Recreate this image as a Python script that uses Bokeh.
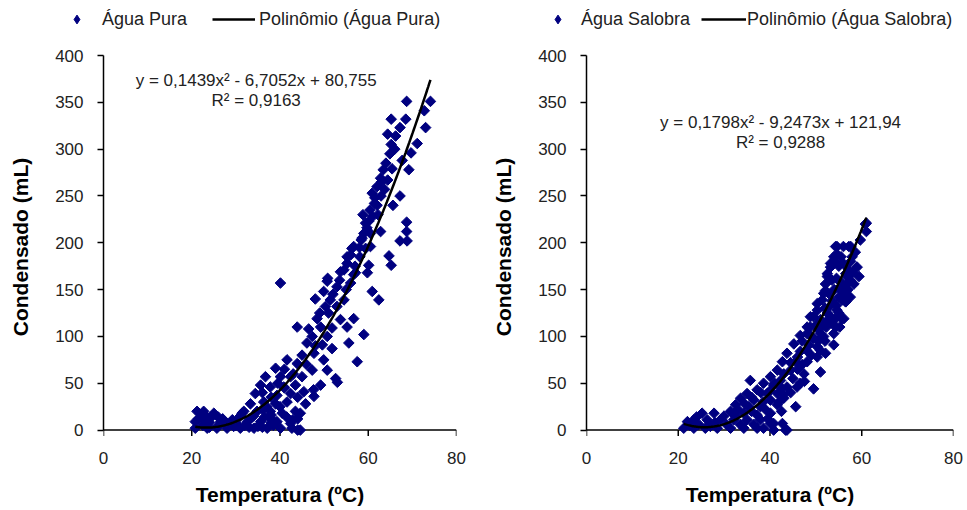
import numpy as np
from bokeh.plotting import figure
from bokeh.layouts import row, column
from bokeh.models import Range1d, Legend, LegendItem, Label, FixedTicker, Span
from bokeh.embed import file_html
from bokeh.resources import INLINE

# ---- Água Pura: temperatura (ºC) x condensado (mL) ----
pura_temp = [68.7, 74.1, 72.7, 65.2, 68.5, 73.0, 67.2, 64.4, 66.2, 71.1, 65.2, 69.7, 64.9, 67.7,
             63.4, 65.4, 69.2, 62.8, 64.4, 62.0, 63.7, 60.9, 67.2, 62.9, 65.6, 61.4, 60.4, 58.8,
             62.2, 60.1, 68.7, 59.7, 62.8, 68.7, 67.2, 68.8, 58.4, 56.7, 59.4, 56.0, 58.1, 64.7,
             65.2, 55.2, 60.1, 53.7, 57.1, 59.8, 50.8,
             59.4, 58.6, 60.5, 56.3, 55.2, 56.7, 54.5, 50.7, 52.9, 56.0, 60.9, 62.4, 49.9, 51.4,
             54.5, 50.3, 52.9, 56.7, 53.7, 48.4, 43.9, 49.2, 51.8, 55.2, 59.0, 47.3, 50.7, 46.1,
             49.6, 55.6, 51.8, 47.7, 49.9, 57.5, 41.6, 43.9, 39.0, 47.3, 50.7, 52.6, 45.0, 42.4,
             36.7, 40.1, 35.6, 37.8, 40.9, 43.5, 49.2, 34.4, 39.3, 42.4, 45.4, 47.7, 36.3, 39.0,
             41.6, 45.8, 33.3, 31.8, 34.8, 37.8, 40.5, 43.5, 42.9, 39.3, 35.6, 32.6, 29.2, 26.5,
             23.5, 21.2, 22.7, 25.0, 22.0, 20.8, 20.8, 23.5, 25.7, 28.0, 31.0, 34.1, 37.1, 40.1,
             42.7, 44.6, 31.4, 40.1, 47.6, 53.0, 44.6, 42.4, 44.0,
             22.5, 24.0, 21.5, 23.0, 24.5, 26.0, 27.0, 29.5, 30.0, 32.0, 33.5, 35.0, 36.5, 38.5,
             38.0, 36.0, 38.0, 39.5, 41.0, 37.0, 40.0, 44.0, 43.0, 41.0, 46.0, 45.0, 48.0, 46.5,
             49.0, 51.0, 48.0, 52.0, 53.5, 55.0, 57.0, 58.0, 59.0, 60.5, 61.0, 61.5, 62.0, 63.0,
             64.0, 66.0, 30.0, 28.0, 26.0, 24.0, 33.0, 36.0, 38.0, 34.0, 44.0, 41.5, 38.0, 36.0,
             31.0]
pura_cond = [351, 351, 341, 332, 332, 323, 323, 316, 314, 306, 305, 296, 295, 288,
             278, 279, 278, 269, 267, 260, 257, 253, 250, 250, 240, 242, 235, 230,
             230, 223, 222, 216, 212, 212, 202, 202, 203, 196, 194, 187, 185, 186,
             176, 178, 176, 169, 168, 168, 162,
             221, 205, 196, 194, 185, 166, 171, 159, 153, 157, 148, 139, 148, 139,
             139, 132, 132, 119, 118, 119, 110, 110, 109, 110, 102, 100, 100, 93,
             91, 93, 87, 82, 75, 73, 75, 71, 66, 64, 64, 55, 57, 57,
             57, 57, 48, 46, 46, 48, 48, 39, 37, 39, 41, 36, 30, 28,
             30, 28, 28, 20, 20, 20, 18, 20, 11, 9, 9, 9, 11, 9,
             11, 20, 20, 18, 14, 9, 2, 2, 2, 2, 2, 2, 2, 2,
             2, 0, 18, 157, 43, 51, 18, 7, 0,
             5, 8, 12, 16, 14, 5, 12, 4, 8, 5, 13, 4, 14, 5,
             12, 40, 35, 50, 45, 25, 25, 35, 60, 65, 70, 80, 90, 108,
             125, 125, 140, 145, 160, 150, 175, 195, 210, 210, 228, 248, 240, 265,
             285, 300, 5, 7, 14, 3, 3, 3, 8, 15, 12, 14, 16, 22,
             15]

# ---- Água Salobra ----
salobra_temp = [61.0, 61.0, 59.7, 54.6, 57.2, 56.0, 58.6, 53.9, 57.6, 59.0, 53.2, 52.5, 56.8, 59.4,
                55.4, 52.1, 57.0, 58.3, 51.4, 55.7, 50.3, 54.6, 56.5, 49.5, 53.2, 56.1, 48.8, 52.3,
                55.2, 48.1, 51.0, 53.9,
                60.8, 54.3, 57.6, 54.6, 57.9, 53.2, 52.5, 56.5, 56.8, 52.1, 51.7, 55.7, 56.5, 50.3,
                53.2, 48.8, 55.7, 52.5, 54.3, 48.1, 50.6, 46.6, 49.5, 51.7, 53.9, 45.2, 48.5, 50.3,
                46.6, 52.1, 43.7, 50.3, 42.7, 45.6, 48.1, 51.0, 41.6, 44.5, 47.4, 35.7, 40.1, 42.3,
                38.6, 40.8, 43.7, 46.6, 49.5, 37.2, 35.0, 39.4, 41.6, 33.6, 36.5, 40.1, 43.0, 32.5,
                35.4, 37.9, 45.6, 41.6, 31.4, 34.3, 37.2, 40.1, 25.2, 27.8, 23.4, 22.0, 26.3, 29.2,
                32.1, 35.0, 37.9, 21.2, 23.4, 25.9, 28.5, 31.4, 34.3, 37.2, 40.1, 40.8, 43.4, 38.6,
                40.8, 42.7, 43.7, 45.9,
                54.0, 55.0, 55.5, 56.0, 57.0, 58.0, 53.5, 54.5, 55.5, 57.5, 53.0, 54.0, 55.0, 56.0,
                57.5, 52.0, 53.5, 54.5, 55.0, 51.0, 52.5, 53.5, 54.5, 50.0, 51.5, 49.0, 50.5, 52.0,
                47.0, 48.0, 49.0, 51.0, 46.0, 47.0, 44.5, 46.0, 43.0, 45.0, 47.5, 41.0, 42.5, 44.5,
                38.0, 40.0, 43.0, 36.0, 38.5, 42.0, 34.5, 39.0, 42.5, 33.0, 36.0, 30.0, 32.5, 28.0,
                24.5, 30.5, 33.5, 36.5, 39.5, 27.0, 24.0, 22.5]
salobra_cond = [221, 212, 203, 196, 196, 196, 190, 185, 180, 174, 174, 164, 164, 164,
                153, 149, 150, 156, 139, 139, 128, 128, 137, 121, 121, 119, 110, 110,
                110, 103, 103, 103,
                220, 196, 196, 188, 185, 178, 167, 167, 156, 156, 146, 148, 137, 135,
                133, 121, 119, 117, 110, 110, 107, 101, 98, 100, 91, 92, 91, 89,
                84, 82, 82, 78, 73, 73, 73, 62, 64, 64, 60, 53, 57, 53,
                50, 48, 46, 50, 44, 43, 39, 39, 39, 34, 32, 32, 34, 27,
                25, 25, 25, 27, 20, 18, 16, 18, 18, 18, 11, 9, 11, 11,
                11, 11, 11, 2, 2, 2, 2, 2, 2, 2, 7, 0, 0, 2,
                7, 7, 0, 46,
                180, 175, 185, 178, 172, 168, 160, 162, 158, 160, 145, 150, 142, 145,
                142, 130, 138, 133, 125, 118, 125, 115, 120, 112, 112, 100, 95, 95,
                95, 85, 80, 85, 78, 70, 72, 65, 60, 55, 52, 50, 45, 40,
                40, 42, 38, 35, 30, 30, 28, 22, 20, 22, 20, 15, 15, 8,
                6, 6, 6, 6, 12, 4, 14, 5]

# polynomial trend lines (a, b, c) and their printed forms
pura_coef = [0.1439, -6.7052, 80.755]
salobra_coef = [0.1798, -9.2473, 121.94]
pura_eq = ["y = 0,1439x² - 6,7052x + 80,755", "R² = 0,9163"]
salobra_eq = ["y = 0,1798x² - 9,2473x + 121,94", "R² = 0,9288"]

x_ticks = [0, 20, 40, 60, 80]
y_ticks = [0, 50, 100, 150, 200, 250, 300, 350, 400]

NAVY = "#000080"
FONT = "Liberation Sans"
TICK_LEN = 6.4  # data units below the x axis (about 6 px)
LEGEND_H = 40


def panel(temp, cond, coef, eq_lines, width, border_right, eq_x, eq_y):
    p = figure(width=width, height=510 - LEGEND_H, x_range=Range1d(0, 80),
               y_range=Range1d(-9, 400),
               output_backend="svg", toolbar_location=None,
               min_border_left=103, min_border_right=border_right,
               min_border_top=55 - LEGEND_H, min_border_bottom=72)
    p.outline_line_color = None
    p.grid.visible = False
    p.background_fill_color = "white"
    p.border_fill_color = "white"

    for ax in (p.xaxis, p.yaxis):
        ax.axis_line_color = "black"
        ax.axis_line_width = 1.5
        ax.major_tick_line_color = "black"
        ax.major_tick_line_width = 1.5
        ax.major_tick_in = 0
        ax.major_tick_out = 6
        ax.minor_tick_line_color = None
        ax.major_label_text_font = FONT
        ax.major_label_text_font_size = "17px"
        ax.major_label_text_color = "#222222"
        ax.axis_label_text_font = FONT
        ax.axis_label_text_font_style = "bold"
        ax.axis_label_text_font_size = "21px"
        ax.axis_label_text_color = "black"

    p.xaxis.ticker = FixedTicker(ticks=x_ticks)
    p.yaxis.ticker = FixedTicker(ticks=y_ticks)
    p.yaxis.bounds = (0, 400)
    p.xaxis.axis_label = "Temperatura (ºC)"
    p.yaxis.axis_label = "Condensado (mL)"
    # the x axis line and ticks are drawn at y = 0; the axis object only carries labels
    p.xaxis.axis_line_color = None
    p.xaxis.major_tick_line_color = None
    p.xaxis.major_tick_out = 0
    p.xaxis.major_label_standoff = 13
    p.xaxis.axis_label_standoff = 16
    p.yaxis.major_label_standoff = 14
    p.yaxis.axis_label_standoff = 20

    p.add_layout(Span(location=0, dimension="width", line_color="black", line_width=1.5,
                      level="underlay"))
    p.segment(x0=x_ticks, y0=[0] * len(x_ticks), x1=x_ticks, y1=[-TICK_LEN] * len(x_ticks),
              line_color="black", line_width=1.5)

    # diamonds: squares turned by 45 degrees
    p.scatter(temp, cond, marker="square", angle=np.pi / 4, size=7.5,
              fill_color=NAVY, line_color=NAVY)
    xs = np.linspace(min(temp), max(temp), 200)
    p.line(xs, np.polyval(coef, xs), line_color="black", line_width=2.5)

    for text, yy in zip(eq_lines, eq_y):
        p.add_layout(Label(x=eq_x, y=yy, text=text, text_align="center", text_baseline="middle",
                           text_font=FONT, text_font_size="17px", text_color="#222222"))
    return p


def legend_strip(series_name, width, x0, glyph_w, standoff, spacing):
    s = figure(width=width, height=LEGEND_H, x_range=Range1d(0, 1), y_range=Range1d(0, 1),
               x_axis_type=None, y_axis_type=None, output_backend="svg",
               toolbar_location=None, min_border=0)
    s.outline_line_color = None
    s.grid.visible = False
    # swatch-only renderers: a single NaN row, so nothing is plotted in the strip
    pts = s.scatter([np.nan], [np.nan], marker="diamond", size=8,
                    fill_color=NAVY, line_color=NAVY)
    trend = s.line([np.nan, np.nan], [np.nan, np.nan], line_color="black", line_width=2.5)
    legend = Legend(items=[LegendItem(label=series_name, renderers=[pts]),
                           LegendItem(label="Polinômio (" + series_name + ")", renderers=[trend])],
                    orientation="horizontal", location=(x0, 10),
                    glyph_width=glyph_w, glyph_height=22, label_standoff=standoff,
                    spacing=spacing, padding=0, margin=0, border_line_color=None,
                    background_fill_alpha=0, label_text_font=FONT,
                    label_text_font_size="18px", label_text_color="#222222")
    s.add_layout(legend)
    return s


left = panel(pura_temp, pura_cond, pura_coef, pura_eq, 483, 27, 34.6, [373, 352])
right = panel(salobra_temp, salobra_cond, salobra_coef, salobra_eq, 484, 14, 42.3, [328, 307])
leg_left = legend_strip("Água Pura", 483, 55, 43, 4, 25)
leg_right = legend_strip("Água Salobra", 484, 52, 45, 1, 11)

layout = column(row(leg_left, leg_right), row(left, right))
open("out.html", "w").write(file_html(layout, INLINE))
